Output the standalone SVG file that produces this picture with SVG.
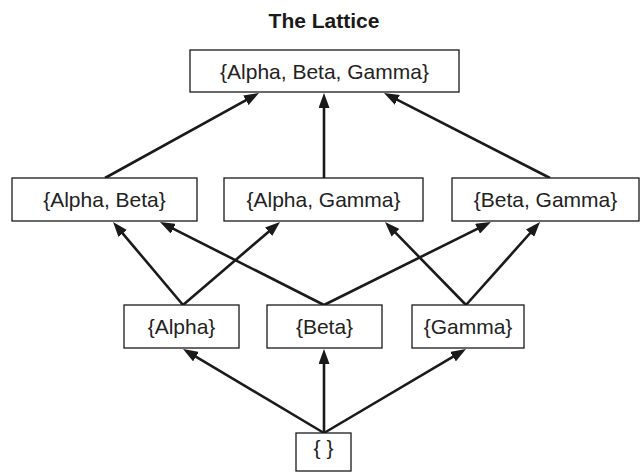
<svg xmlns="http://www.w3.org/2000/svg" width="641" height="472" viewBox="0 0 641 472">
  <style>
    .box { fill: #ffffff; stroke: #1a1a1a; stroke-width: 1.3; }
    .lbl { font-family: "Liberation Sans", Arial, Helvetica, sans-serif; font-size: 21px; fill: #222222; text-anchor: middle; }
    .title { font-family: "Liberation Sans", Arial, Helvetica, sans-serif; font-size: 21px; font-weight: bold; fill: #1a1a1a; text-anchor: middle; }
    .edge { stroke: #1a1a1a; stroke-width: 2.6; fill: none; marker-end: url(#head); }
  </style>
  <defs>
    <marker id="head" markerUnits="userSpaceOnUse" markerWidth="15" markerHeight="11" refX="7" refY="5.5" orient="auto">
      <path d="M0,0 L15,5.5 L0,11 Z" fill="#1a1a1a"/>
    </marker>
  </defs>

  <rect width="641" height="472" fill="#ffffff"/>

  <text class="title" x="324" y="28">The Lattice</text>

  <!-- connectors -->
  <g id="edges">
    <line class="edge" x1="105" y1="178" x2="252" y2="96.9"/>
    <line class="edge" x1="324" y1="178" x2="324" y2="101"/>
    <line class="edge" x1="550" y1="178" x2="391.1" y2="96.6"/>

    <line class="edge" x1="183" y1="305" x2="118.2" y2="228.1"/>
    <line class="edge" x1="324" y1="305" x2="167.1" y2="225.6"/>
    <line class="edge" x1="183" y1="305" x2="273.9" y2="227.2"/>
    <line class="edge" x1="466" y1="305" x2="390.6" y2="227.7"/>
    <line class="edge" x1="324" y1="305" x2="483.8" y2="225.6"/>
    <line class="edge" x1="466" y1="305" x2="534.7" y2="228"/>

    <line class="edge" x1="324" y1="433" x2="189.9" y2="353.1"/>
    <line class="edge" x1="324" y1="433" x2="324" y2="357"/>
    <line class="edge" x1="324" y1="433" x2="459.1" y2="353.1"/>
  </g>

  <!-- top -->
  <g id="n-abg">
    <rect class="box" x="190" y="50" width="269" height="42"/>
    <text class="lbl" x="324.5" y="79">{Alpha, Beta, Gamma}</text>
  </g>

  <!-- pairs -->
  <g id="n-ab">
    <rect class="box" x="12" y="178" width="185" height="43"/>
    <text class="lbl" x="104.5" y="207">{Alpha, Beta}</text>
  </g>
  <g id="n-ag">
    <rect class="box" x="224" y="178" width="199" height="43"/>
    <text class="lbl" x="323.5" y="207">{Alpha, Gamma}</text>
  </g>
  <g id="n-bg">
    <rect class="box" x="452" y="178" width="187" height="43"/>
    <text class="lbl" x="545.5" y="207">{Beta, Gamma}</text>
  </g>

  <!-- singletons -->
  <g id="n-a">
    <rect class="box" x="124" y="305" width="115" height="43"/>
    <text class="lbl" x="181.5" y="334">{Alpha}</text>
  </g>
  <g id="n-b">
    <rect class="box" x="267" y="305" width="115" height="43"/>
    <text class="lbl" x="324.5" y="334">{Beta}</text>
  </g>
  <g id="n-g">
    <rect class="box" x="412" y="305" width="112" height="43"/>
    <text class="lbl" x="468" y="334">{Gamma}</text>
  </g>

  <!-- empty set -->
  <g id="n-empty">
    <rect class="box" x="296" y="433" width="55" height="38"/>
    <text class="lbl" x="323.5" y="455">{ }</text>
  </g>
</svg>
